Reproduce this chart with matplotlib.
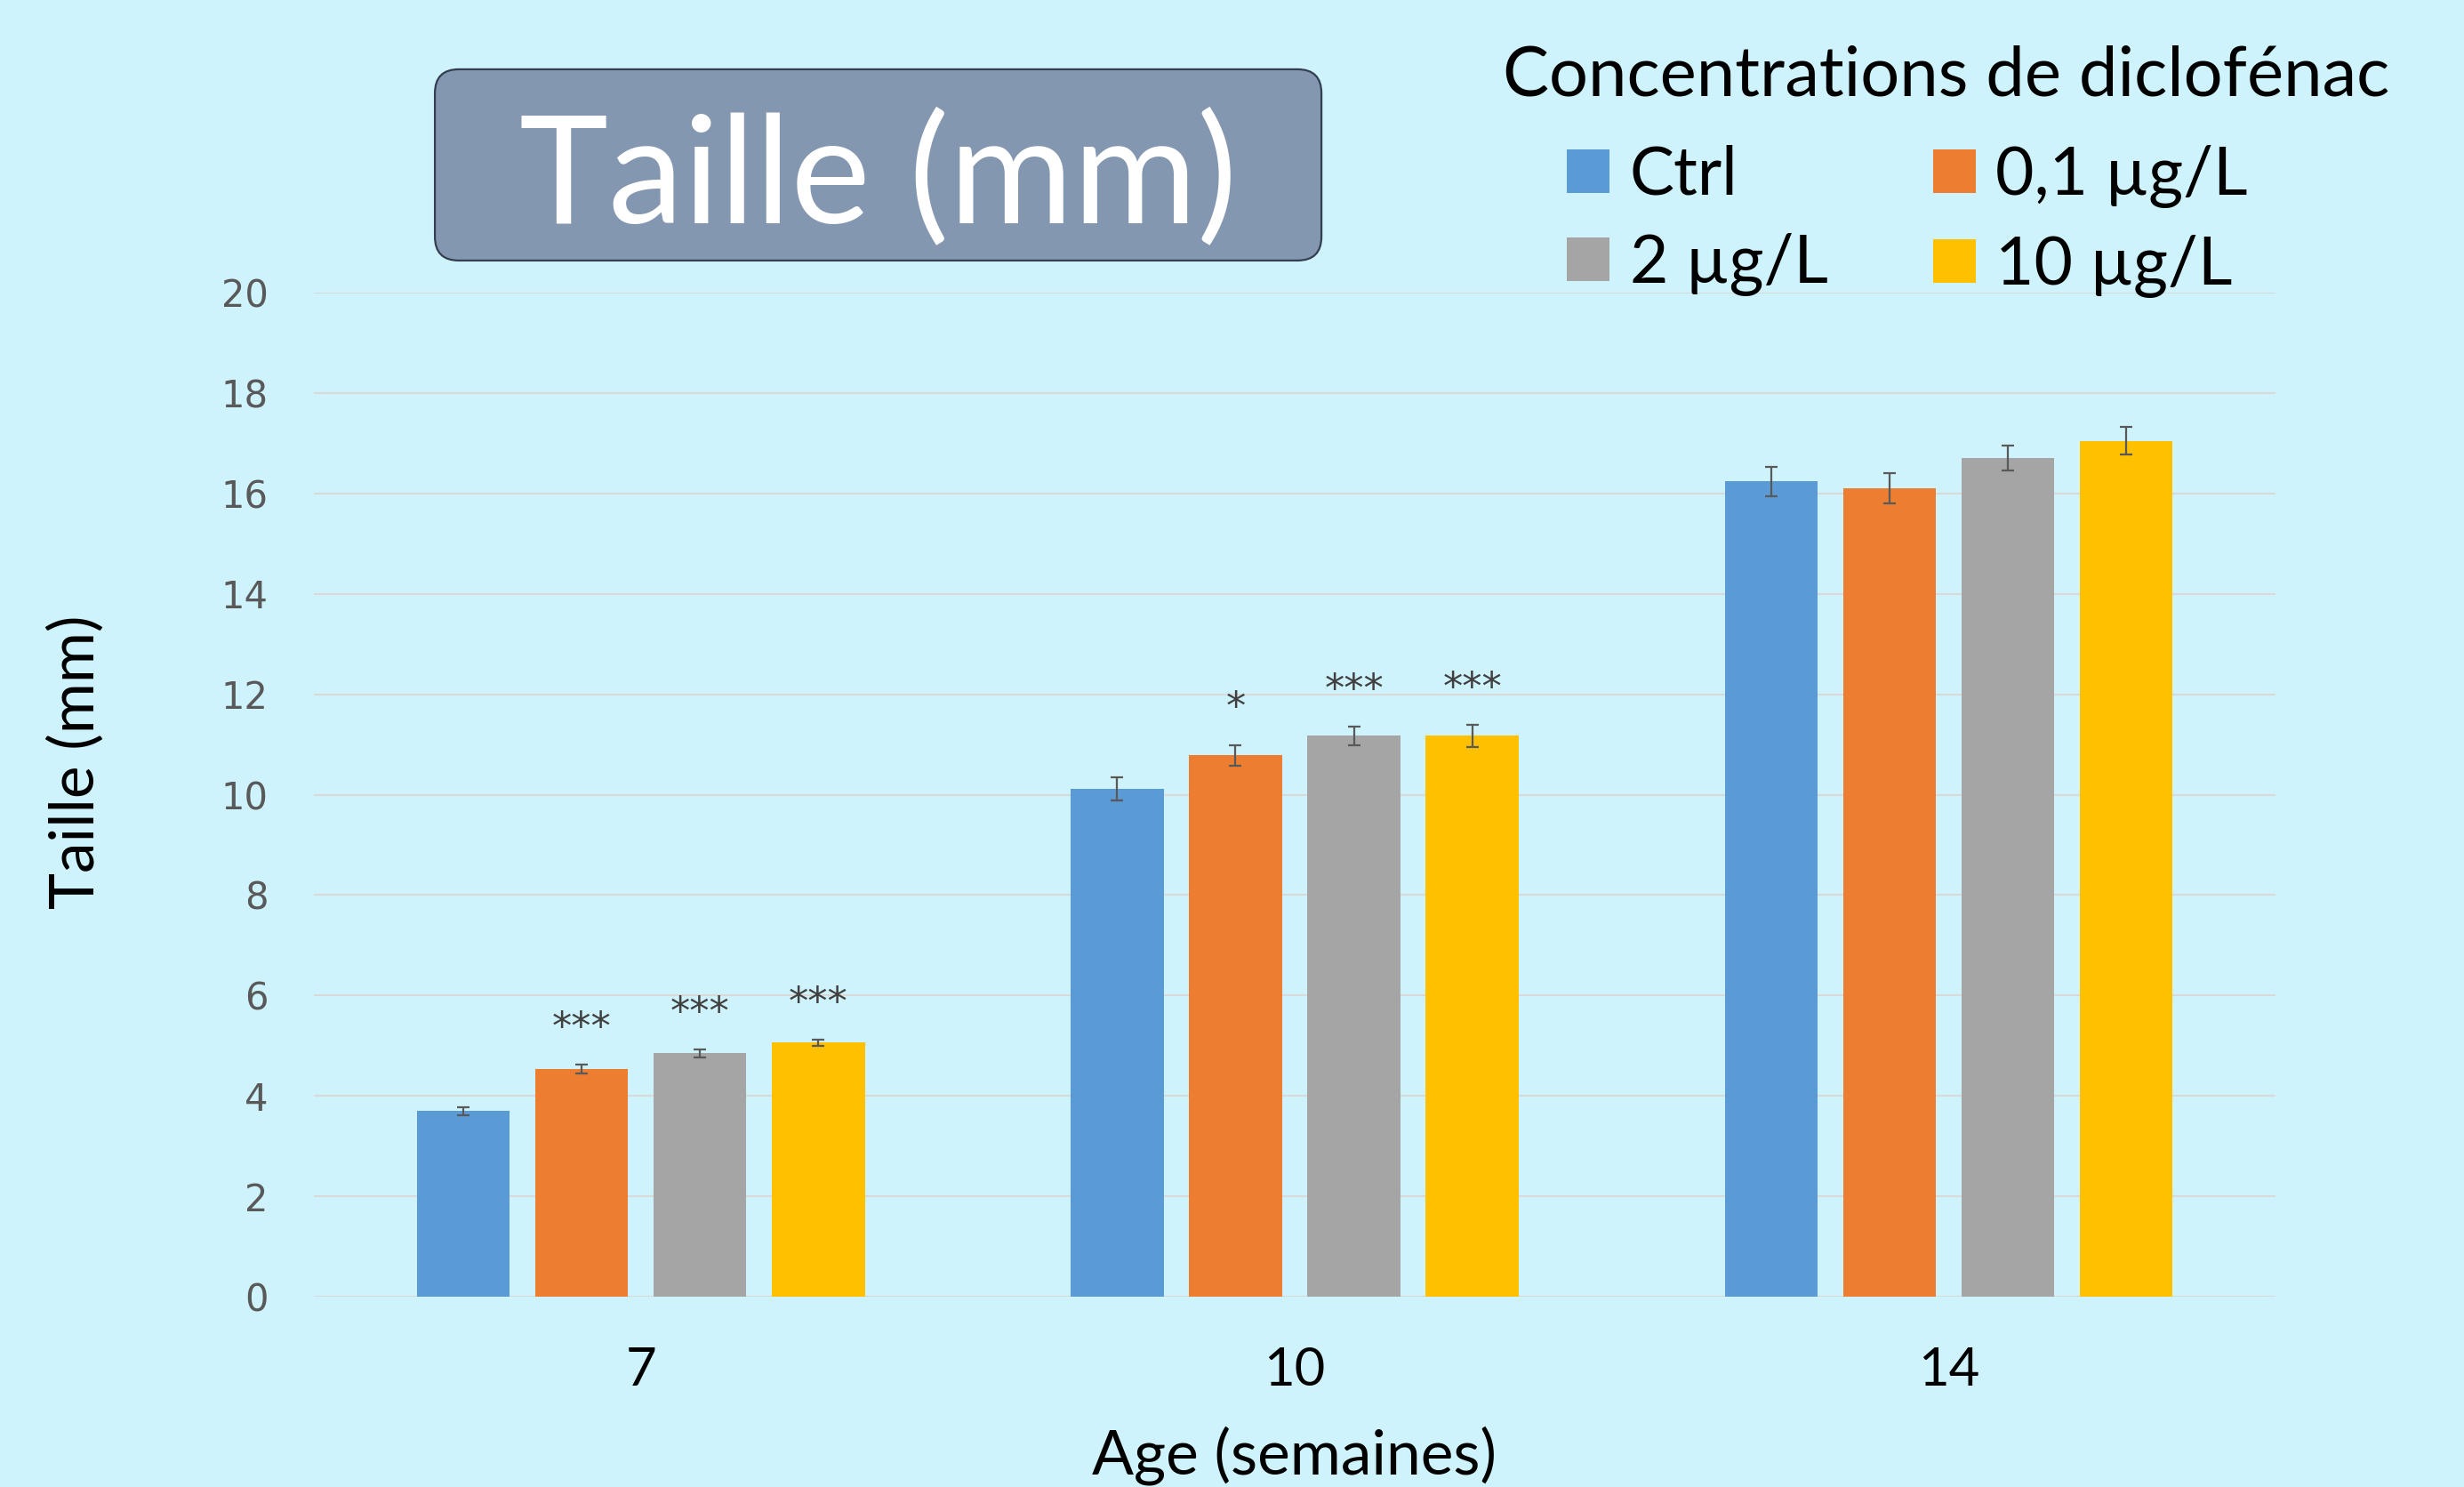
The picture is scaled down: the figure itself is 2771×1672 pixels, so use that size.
import matplotlib
matplotlib.use("Agg")
import matplotlib.pyplot as plt
from matplotlib.patches import FancyBboxPatch, Patch
import numpy as np

# data (Taille en mm, moyenne +/- erreur)
ages = ["7", "10", "14"]
series = ["Ctrl", "0,1 µg/L", "2 µg/L", "10 µg/L"]
ctrl = [3.70, 10.11, 16.24]
c01 = [4.53, 10.78, 16.10]
c2 = [4.85, 11.17, 16.71]
c10 = [5.06, 11.17, 17.05]
ctrl_err = [0.08, 0.23, 0.29]
c01_err = [0.09, 0.21, 0.30]
c2_err = [0.08, 0.18, 0.25]
c10_err = [0.06, 0.22, 0.28]
ctrl_sig = ["", "", ""]
c01_sig = ["***", "*", ""]
c2_sig = ["***", "***", ""]
c10_sig = ["***", "***", ""]

values = [ctrl, c01, c2, c10]
errors = [ctrl_err, c01_err, c2_err, c10_err]
sigs = [ctrl_sig, c01_sig, c2_sig, c10_sig]
colors = ["#5B9BD5", "#ED7D31", "#A5A5A5", "#FFC000"]

BG = "#CFF3FC"
plt.rcParams["font.family"] = ["Lato", "DejaVu Sans"]

fig = plt.figure(figsize=(27.71, 16.72), dpi=100, facecolor=BG)
ax = fig.add_axes([0.1274, 0.128, 0.7961, 0.6752])
ax.set_facecolor(BG)

x = np.arange(len(ages))
width = 0.142
step = 0.181
handles = []
for i, (vals, errs, sig, col) in enumerate(zip(values, errors, sigs, colors)):
    pos = x + (i - 1.5) * step
    ax.bar(pos, vals, width, color=col, zorder=3)
    ax.errorbar(pos, vals, yerr=errs, fmt="none", ecolor="#595959",
                elinewidth=1.6, capsize=5, capthick=1.6, zorder=4)
    for p, v, e, s in zip(pos, vals, errs, sig):
        if s:
            ax.text(p, v + e + 0.72, s, ha="center", va="center",
                    fontsize=32, color="#404040", family="DejaVu Sans")
    handles.append(Patch(facecolor=col, label=series[i]))

ax.set_xlim(-0.5, 2.5)
ax.set_ylim(0, 20)
ax.set_yticks(np.arange(0, 21, 2))
ax.set_xticks(x)
ax.set_xticklabels(ages)
ax.grid(axis="y", color="#D9D9D9", linewidth=1.5, zorder=0)
ax.set_axisbelow(True)
for s in ax.spines.values():
    s.set_visible(False)
ax.tick_params(axis="x", length=0, pad=40, labelsize=43, labelcolor="black")
ax.tick_params(axis="y", length=0, pad=37, labelsize=30, labelcolor="#595959")
for lab in ax.get_yticklabels():
    lab.set_family("DejaVu Sans")

fig.text(0.0307, 0.4874, "Taille (mm)", rotation=90, ha="center", va="center",
         fontsize=50, color="black")
fig.text(0.5254, 0.021, "Age (semaines)", ha="center", va="center",
         fontsize=50, color="black")

# boite du titre
box = FancyBboxPatch((0.1765, 0.8248), 0.3598, 0.1286, transform=fig.transFigure,
                     boxstyle="round,pad=0,rounding_size=0.0097",
                     mutation_aspect=2771 / 1672,
                     facecolor="#8497B0", edgecolor="#333F50", linewidth=1.6)
fig.patches.append(box)
fig.text(0.3563, 0.8798, "Taille (mm)", ha="center", va="center",
         fontsize=122, color="white")

# legende
fig.text(0.7897, 0.936, "Concentrations de diclofénac", ha="center",
         va="baseline", fontsize=56, color="black")
order = [0, 2, 1, 3]
ax.legend([handles[k] for k in order], [series[k] for k in order], ncol=2,
          loc="upper left", bbox_to_anchor=(0.6225, 0.925),
          bbox_transform=fig.transFigure, frameon=False, borderpad=0,
          fontsize=54, handlelength=0.64, handleheight=0.62,
          handletextpad=0.3, columnspacing=1.57, labelspacing=0.40)

fig.savefig("out.png", dpi=100, facecolor=BG)
